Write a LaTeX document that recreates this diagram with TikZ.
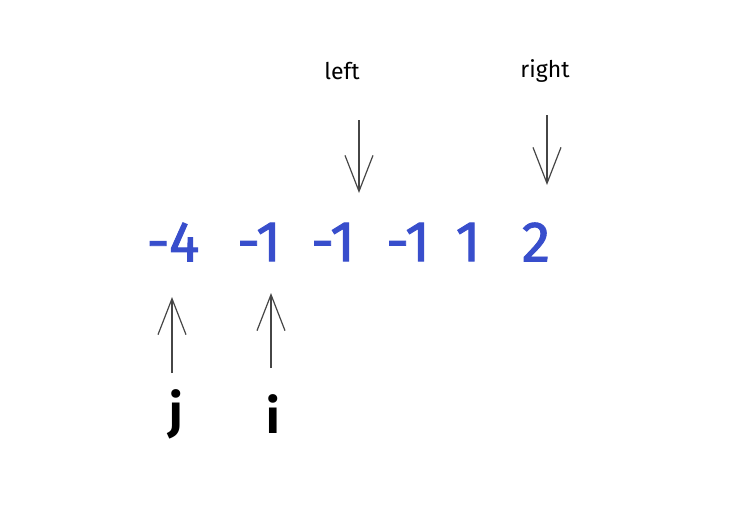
\documentclass[tikz,border=0pt]{standalone}
\usepackage{fontspec}
\setmainfont{Fira Sans}
\newfontfamily\numfont[FakeBold=1.6]{Fira Sans}
\usetikzlibrary{arrows.meta}
\definecolor{numblue}{RGB}{56,78,204}
\definecolor{arrgrey}{RGB}{70,70,70}
\tikzset{
  num/.style={text=numblue, font=\numfont\fontsize{57}{57}\selectfont, inner sep=0pt, anchor=center},
  ptr/.style={font=\fontsize{23}{23}\selectfont, inner sep=0pt, text=black},
  idx/.style={font=\fontsize{48}{48}\selectfont\bfseries, inner sep=0pt, text=black},
  arr/.style={draw=arrgrey, line width=1.2pt, -{Straight Barb[length=36pt,width=28pt,line width=1.2pt]}}
}
\begin{document}
\begin{tikzpicture}[x=1pt,y=-1pt]
\useasboundingbox (0,0) rectangle (734,504);
\fill[white] (0,0) rectangle (734,504);
% numbers
\node[num] (n1) at (173,242) {-4};
\node[num] (n2) at (259,242) {-1};
\node[num] (n3) at (333,242) {-1};
\node[num] (n4) at (408,242) {-1};
\node[num] (n5) at (468,242) {1};
\node[num] (n6) at (536,242) {2};
% top labels
\node[ptr] (left) at (342,71) {left};
\node[ptr] (right) at (545,71) {right};
\coordinate (ls) at (359,120);
\coordinate (le) at (359,193);
\coordinate (rs) at (547,115);
\coordinate (re) at (547,185);
\draw[arr] (ls) -- (le);
\draw[arr] (rs) -- (re);
% bottom labels
\node[idx] (j) at (176,414) {j};
\node[idx] (i) at (273,414) {i};
\coordinate (js) at (172,373);
\coordinate (je) at (172,297);
\coordinate (is) at (271,368);
\coordinate (ie) at (271,293);
\draw[arr] (js) -- (je);
\draw[arr] (is) -- (ie);
\end{tikzpicture}
\end{document}
